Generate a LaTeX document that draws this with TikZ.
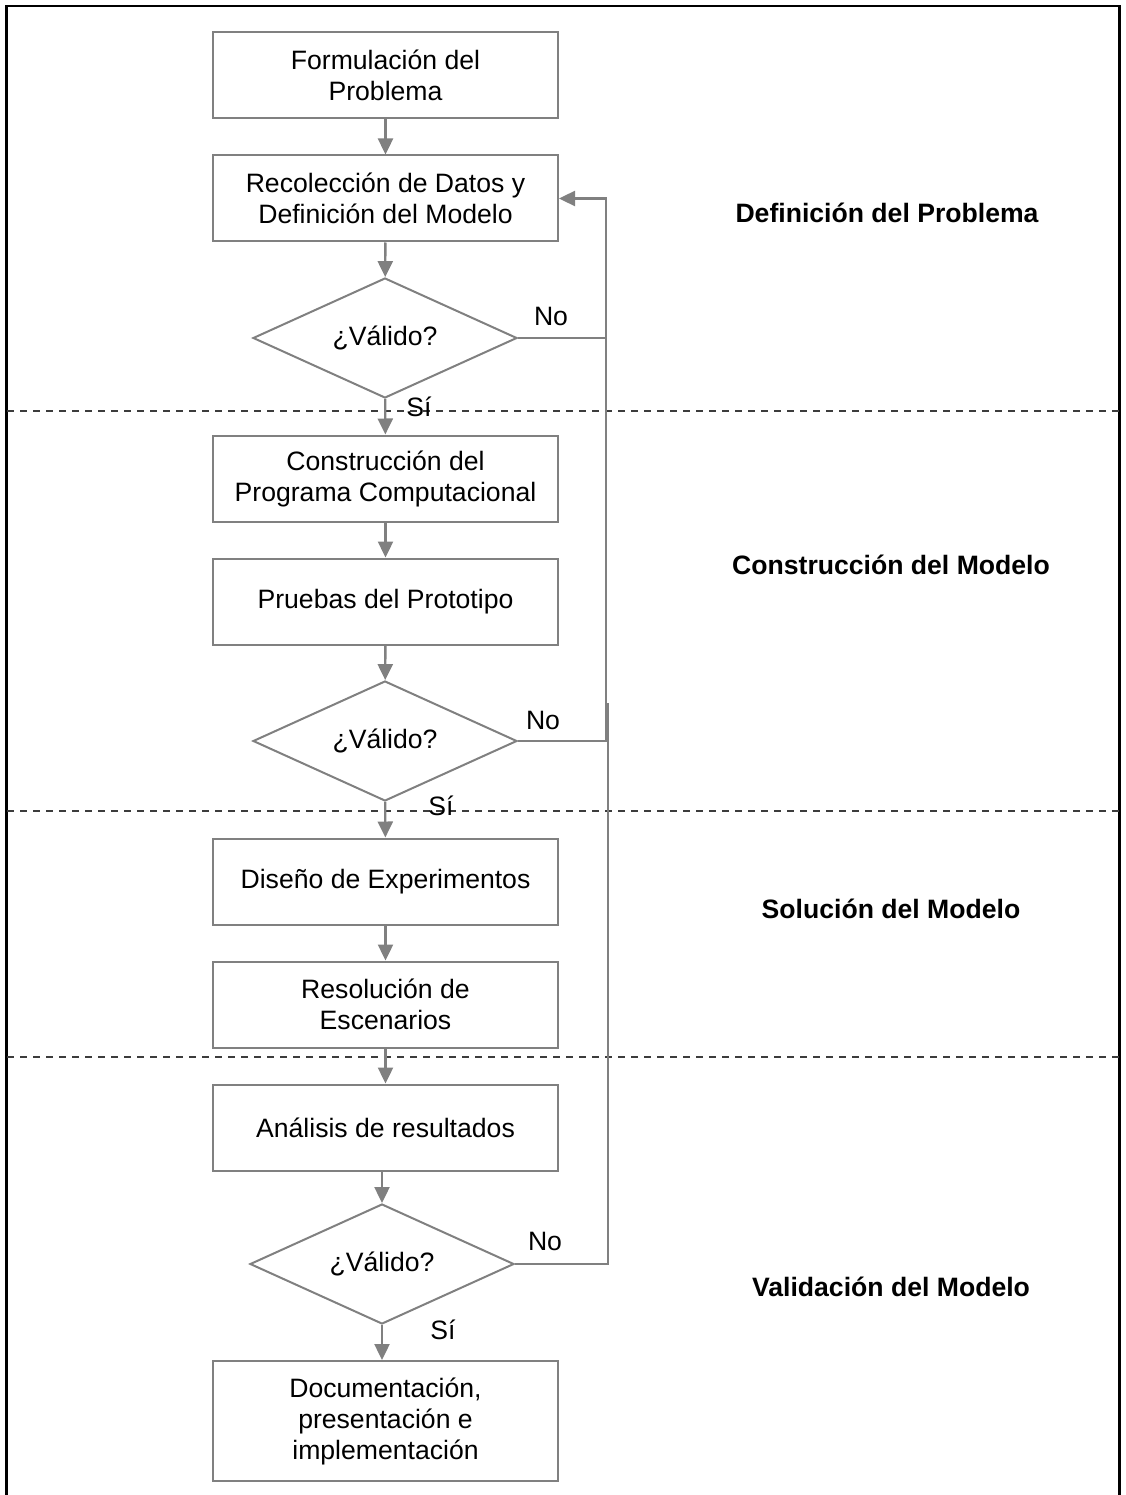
\documentclass[tikz,border=0pt]{standalone}
\usepackage{fontspec}
\setmainfont{Liberation Sans}
\usetikzlibrary{shapes.geometric,arrows.meta}
\newcommand\flowfont{\fontsize{26.6}{31}\selectfont}
\definecolor{linegray}{RGB}{128,128,128}
\definecolor{dashgray}{RGB}{60,60,60}
\begin{document}
\begin{tikzpicture}[x=1pt,y=-1pt,
  box/.style={draw=linegray, line width=2pt, minimum width=345pt, minimum height=86pt, align=center, inner sep=0pt, font=\flowfont},
  dec/.style={diamond, draw=linegray, line width=2pt, aspect=2.2, minimum width=264pt, minimum height=120pt, inner sep=0pt, font=\flowfont},
  arr/.style={draw=linegray, line width=2.4pt, -{Triangle[length=16pt,width=15pt]}},
  ln/.style={draw=linegray, line width=2.4pt},
  lbl/.style={font=\flowfont, inner sep=0pt},
  phase/.style={font=\flowfont\bfseries, inner sep=0pt},
  sep/.style={draw=dashgray, line width=2pt, dash pattern=on 7pt off 6pt}]
\useasboundingbox (0,0) rectangle (1125,1495);
\draw[black, line width=2.6pt] (6.5,6) rectangle (1119.5,1520);

% separators
\coordinate (s1l) at (7,410.5); \coordinate (s1r) at (1119,410.5);
\coordinate (s2l) at (7,811);   \coordinate (s2r) at (1119,811);
\coordinate (s3l) at (7,1057);  \coordinate (s3r) at (1119,1057);
\draw[sep] (s1l) -- (s1r);
\draw[sep] (s2l) -- (s2r);
\draw[sep] (s3l) -- (s3r);

% nodes
\node[box] (b1) at (385.5,75) {Formulación del\\Problema};
\node[box] (b2) at (385.5,198.5) {Recolección de Datos y\\Definición del Modelo};
\node[dec] (d1) at (385,338) {¿Válido?};
\node[box] (b3) at (385.5,478.5) {Construcción del\\Programa Computacional};
\node[box] (b4) at (385.5,601.5) {Pruebas del Prototipo};
\node[dec] (d2) at (385,741) {¿Válido?};
\node[box] (b5) at (385.5,881.5) {Diseño de Experimentos};
\node[box] (b6) at (385.5,1004.5) {Resolución de\\Escenarios};
\node[box] (b7) at (385.5,1127.5) {Análisis de resultados};
\node[dec] (d3) at (382,1264) {¿Válido?};
\node[box, minimum height=120pt] (b8) at (385.5,1421) {Documentación,\\presentación e\\implementación};

% labels
\node[lbl] (no1) at (551,316) {No};
\node[lbl] (no2) at (543,720) {No};
\node[lbl] (no3) at (545,1241) {No};
\node[lbl] (si1) at (419,407) {Sí};
\node[lbl] (si2) at (441,806) {Sí};
\node[lbl] (si3) at (443,1330) {Sí};

\node[phase] (p1) at (887,213) {Definición del Problema};
\node[phase] (p2) at (891,565) {Construcción del Modelo};
\node[phase] (p3) at (891,909) {Solución del Modelo};
\node[phase] (p4) at (891,1287) {Validación del Modelo};

% main flow
\draw[arr] (b1) -- (b2);
\draw[arr] (b2) -- (d1);
\draw[arr] (d1) -- (b3);
\draw[arr] (b3) -- (b4);
\draw[arr] (b4) -- (d2);
\draw[arr] (d2) -- (b5);
\draw[arr] (b5) -- (b6);
\draw[arr] (b6) -- (b7);
\draw[arr] (b7.south -| d3.north) -- (d3.north);
\draw[arr] (d3.south) -- (d3.south |- b8.north);

% feedback loops
\coordinate (r1) at (606,338);
\coordinate (r2) at (606,741);
\coordinate (r3) at (608,1264);
\coordinate (r3top) at (608,703);
\draw[arr] (d1.east) -- (r1) |- (b2.east);
\draw[ln] (d2.east) -- (r2) -- (r1);
\draw[ln] (d3.east) -- (r3) -- (r3top);
\end{tikzpicture}
\end{document}
